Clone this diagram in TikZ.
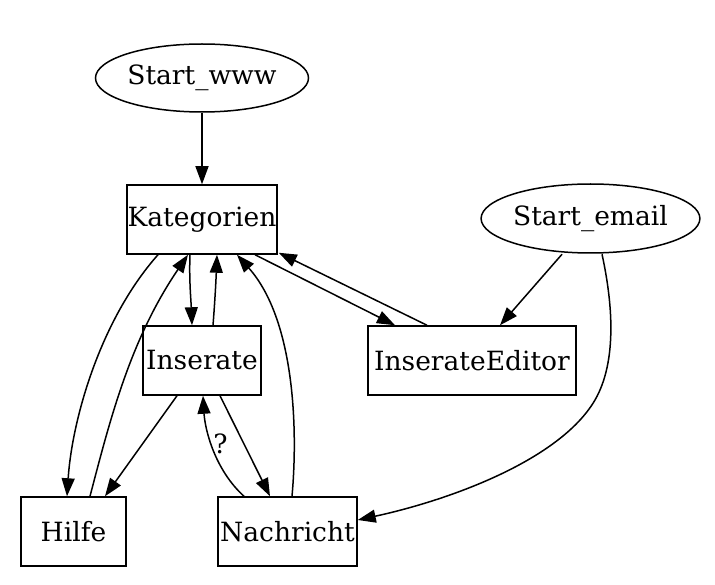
\documentclass[tikz,border=0pt]{standalone}
\usepackage{fontspec}
\setmainfont{DejaVu Serif}
\usetikzlibrary{shapes.geometric,arrows.meta,calc}
\begin{document}
\begin{tikzpicture}[x=1pt,y=-1pt,
  every node/.style={font=\fontsize{26.5}{31}\selectfont, inner sep=0pt},
  ell/.style={draw, ellipse, line width=1.5pt},
  box/.style={draw, rectangle, line width=1.5pt, minimum height=69pt},
  edge/.style={line width=1.5pt, -{Triangle[length=18pt,width=13pt]}}
]
\useasboundingbox (0,0) rectangle (715,585);
\node[ell, minimum width=213pt, minimum height=68pt] (sw) at (202,78) {Start\_www};
\node[box, minimum width=150pt] (kat) at (202,219.5) {Kategorien};
\node[ell, minimum width=215pt, minimum height=69pt] (se) at (590.5,218.5) {Start\_email};
\node[box, minimum width=118pt] (ins) at (202,360.5) {Inserate};
\node[box, minimum width=208pt] (ie) at (472,360.5) {InserateEditor};
\node[box, minimum width=105pt] (hilfe) at (73.5,531.5) {Hilfe};
\node[box, minimum width=139pt] (nach) at (287.5,531.5) {Nachricht};

\draw[edge] (sw.south) -- (kat.north);
\draw[edge] ($(kat.south)+(-12,0)$) .. controls (189,280) and (191,300) .. ($(ins.north)+(-10,0)$);
\draw[edge] ($(ins.north)+(11,0)$) .. controls (215,300) and (216,280) .. ($(kat.south)+(15,0)$);
\draw[edge] ($(kat.south)+(-44,0)$) .. controls (100,320) and (72,420) .. ($(hilfe.north)+(-6.5,0)$);
\draw[edge] ($(hilfe.north)+(16.5,0)$) .. controls (110,420) and (130,340) .. ($(kat.south)+(-14,0)$);
\draw[edge] ($(ins.south)+(-25,0)$) -- ($(hilfe.north)+(31.5,0)$);
\draw[edge] ($(ins.south)+(18,0)$) -- ($(nach.north)+(-17.5,0)$);
\draw[edge] ($(nach.north)+(-43.5,0)$) .. controls (215,470) and (205,430) .. node[pos=0.55, right=1pt] {?} ($(ins.south)+(1,0)$);
\draw[edge] ($(nach.north)+(4.5,0)$) .. controls (298,430) and (295,320) .. ($(kat.south)+(35,0)$);
\draw[edge] ($(kat.south)+(53,0)$) -- ($(ie.north)+(-77,0)$);
\draw[edge] ($(ie.north)+(-45,0)$) -- ($(kat.south east)+(1,-2)$);
\draw[edge] ($(se.south)+(-28.5,0.5)$) -- ($(ie.north)+(28,0)$);
\coordinate (bend) at (595,400);
\draw[edge] ($(se.south)+(11.5,0.5)$) .. controls (612,300) and (618,360) .. (bend) .. controls (560,460) and (450,500) .. ($(nach.east)+(0,-11.5)$);
\end{tikzpicture}
\end{document}
